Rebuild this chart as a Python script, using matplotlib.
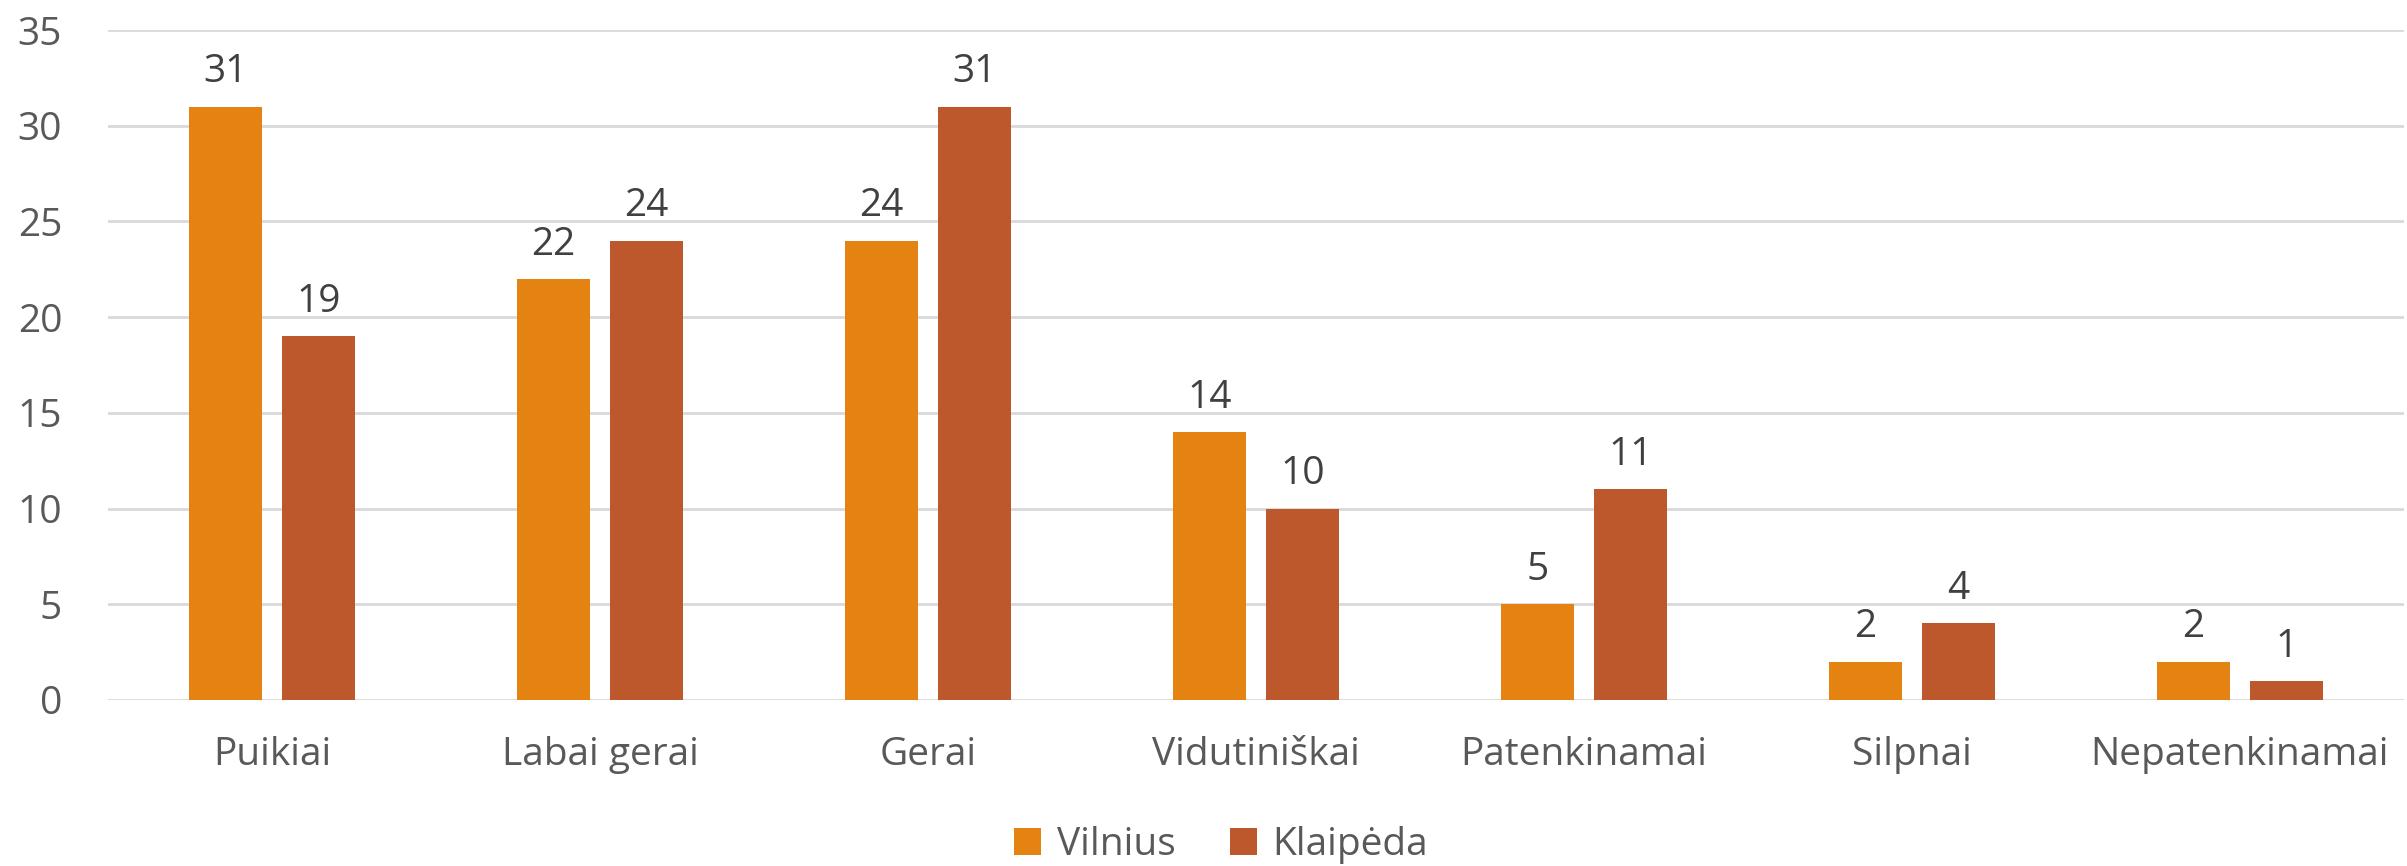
import numpy as np
import matplotlib.pyplot as plt
from matplotlib.patches import Patch

# Data
categories = ['Puikiai', 'Labai gerai', 'Gerai', 'Vidutiniškai',
              'Patenkinamai', 'Silpnai', 'Nepatenkinamai']
vilnius = [31, 22, 24, 14, 5, 2, 2]
klaipeda = [19, 24, 31, 10, 11, 4, 1]
series_names = ['Vilnius', 'Klaipėda']
yticks = [0, 5, 10, 15, 20, 25, 30, 35]

plt.rcParams['font.family'] = ['Open Sans', 'DejaVu Sans']

W, H = 2407, 866
fig = plt.figure(figsize=(W / 100, H / 100), dpi=100)
ax = fig.add_axes([108 / W, 1 - 700 / H, (2404 - 108) / W, (700 - 30) / H])

colors = ['#E48312', '#BD582C']
x = np.arange(len(categories))
bw = 73 / 328
off = 46.5 / 328

b1 = ax.bar(x - off, vilnius, bw, color=colors[0], zorder=3)
b2 = ax.bar(x + off, klaipeda, bw, color=colors[1], zorder=3)

for bars in (b1, b2):
    for rect in bars:
        h = rect.get_height()
        ax.annotate(f'{h:.0f}', (rect.get_x() + rect.get_width() / 2, h),
                    xytext=(0, 11), textcoords='offset points',
                    ha='center', va='bottom', fontsize=28, color='#404040')

ax.set_xlim(-0.5, len(categories) - 0.5)
ax.set_ylim(0, 35)
ax.set_yticks(yticks)
ax.set_xticks(x)
ax.set_xticklabels(categories)
ax.tick_params(axis='both', length=0, labelsize=28, colors='#595959')
ax.tick_params(axis='x', pad=26)
ax.tick_params(axis='y', pad=33)
for lbl in ax.get_yticklabels():
    lbl.set_horizontalalignment('right')
ax.grid(axis='y', color='#D9D9D9', linewidth=2, zorder=0)
for s in ax.spines.values():
    s.set_visible(False)

handles = [Patch(facecolor=c, label=n) for c, n in zip(colors, series_names)]
fig.legend(handles=handles, loc='center', bbox_to_anchor=(1221 / W, 1 - 845 / H),
           ncol=2, frameon=False, fontsize=28, labelcolor='#595959',
           handlelength=0.7, handleheight=0.7, handletextpad=0.4,
           columnspacing=1.4)

fig.savefig('out.png', dpi=100)
